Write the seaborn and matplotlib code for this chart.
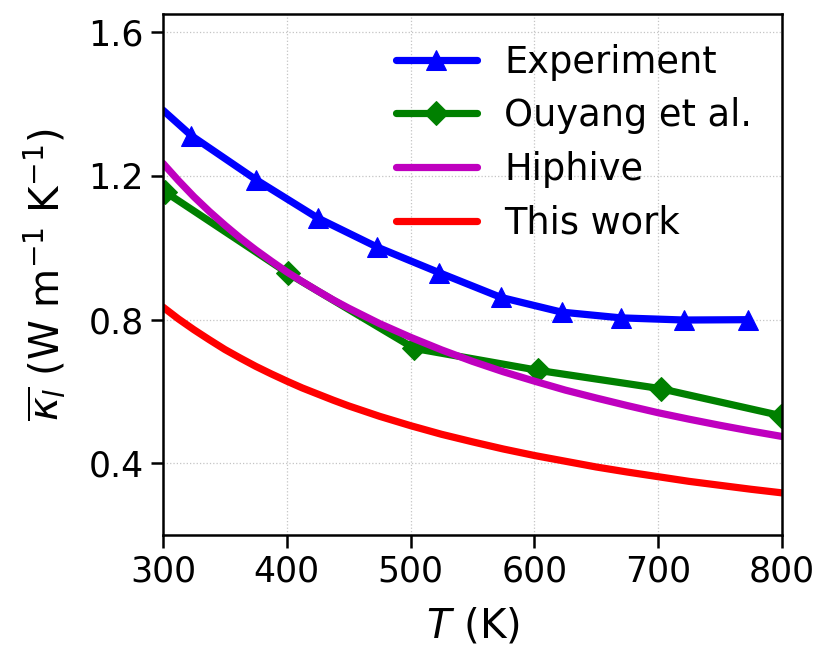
import matplotlib
matplotlib.use("Agg")
import matplotlib.pyplot as plt
import seaborn as sns
import pandas as pd

# Experiment
exp_T = [300, 323, 375, 425, 473, 523, 573, 622, 670, 721, 773]
exp_k = [1.383, 1.312, 1.190, 1.083, 1.002, 0.931, 0.862, 0.821, 0.805, 0.799, 0.800]

# Ouyang et al.
ouy_T = [302, 401, 503, 603, 702, 799]
ouy_k = [1.155, 0.929, 0.720, 0.659, 0.608, 0.533]

# Temperatures for the calculated curves
calc_T = [300, 312.5, 325, 337.5, 350, 362.5, 375, 387.5, 400, 412.5, 425, 437.5,
          450, 475, 500, 525, 550, 575, 600, 625, 650, 675, 700, 725, 750, 775, 800]

# Hiphive
hip_k = [1.235, 1.187, 1.142, 1.101, 1.063, 1.027, 0.994, 0.963, 0.933, 0.906,
         0.880, 0.855, 0.832, 0.789, 0.751, 0.716, 0.684, 0.655, 0.629, 0.604,
         0.582, 0.561, 0.541, 0.523, 0.506, 0.490, 0.475]

# This work
tw_k = [0.835, 0.802, 0.772, 0.744, 0.717, 0.693, 0.670, 0.649, 0.629, 0.610,
        0.593, 0.576, 0.560, 0.531, 0.505, 0.481, 0.460, 0.440, 0.422, 0.406,
        0.390, 0.376, 0.363, 0.350, 0.339, 0.328, 0.318]

xticks = [300, 400, 500, 600, 700, 800]
yticks = [0.4, 0.8, 1.2, 1.6]

sns.set_style("ticks")
plt.rcParams['font.family'] = ['DejaVu Sans']
plt.rcParams['mathtext.fontset'] = 'dejavusans'
plt.rcParams['text.color'] = 'black'
plt.rcParams['axes.labelcolor'] = 'black'
plt.rcParams['xtick.color'] = 'black'
plt.rcParams['ytick.color'] = 'black'

fig = plt.figure(figsize=(8.17, 6.48), dpi=100)
ax = fig.add_axes([0.1995, 0.174, 0.7575, 0.804])

df_exp = pd.DataFrame({"T": exp_T, "k": exp_k})
df_ouy = pd.DataFrame({"T": ouy_T, "k": ouy_k})
df_hip = pd.DataFrame({"T": calc_T, "k": hip_k})
df_tw = pd.DataFrame({"T": calc_T, "k": tw_k})

lw = 5.2
sns.lineplot(data=df_exp, x="T", y="k", ax=ax, color="blue", lw=lw, marker="^",
             markersize=14, markevery=list(range(1, len(exp_T))), mec="blue",
             label="Experiment", sort=False)
sns.lineplot(data=df_ouy, x="T", y="k", ax=ax, color="green", lw=lw, marker="D",
             markersize=12.5, mec="green", label="Ouyang et al.", sort=False)
sns.lineplot(data=df_hip, x="T", y="k", ax=ax, color="m", lw=lw,
             label="Hiphive", sort=False)
sns.lineplot(data=df_tw, x="T", y="k", ax=ax, color="red", lw=lw,
             label="This work", sort=False)

ax.set_xlim(300, 800)
ax.set_ylim(0.2, 1.65)
ax.set_xticks(xticks)
ax.set_yticks(yticks)
ax.set_yticklabels([f"{v:.1f}" for v in yticks])
ax.grid(True, color="#c4c4c4", linestyle=":", linewidth=0.9)
for s in ax.spines.values():
    s.set_linewidth(1.8)
    s.set_color("black")
ax.tick_params(axis="both", labelsize=25, width=1.8, length=9, direction="out",
               colors="black", pad=5)
ax.set_xlabel(r"$T$ (K)", fontsize=29, labelpad=13)
ax.set_ylabel(r"$\overline{\kappa_l}$ (W m$^{-1}$ K$^{-1}$)", fontsize=29, labelpad=14)

leg = ax.legend(loc="upper right", frameon=False, fontsize=26.5, handlelength=2.2,
                labelspacing=0.45, borderaxespad=0.4, handletextpad=0.75)

fig.savefig("out.png", dpi=100)
